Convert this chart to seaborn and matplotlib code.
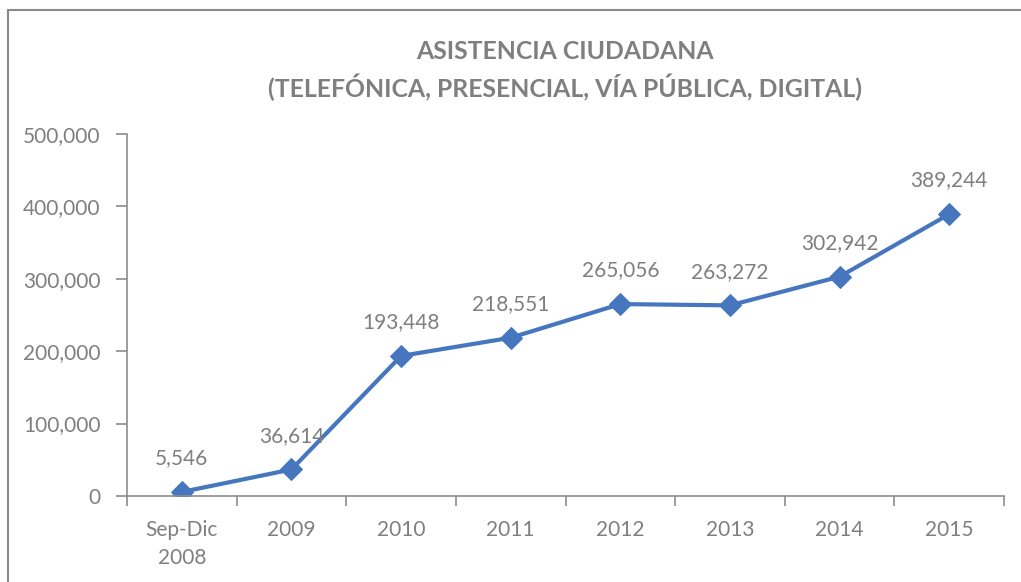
import matplotlib
matplotlib.use("Agg")
import matplotlib.pyplot as plt
import matplotlib.ticker as mticker
from matplotlib.patches import Rectangle
import seaborn as sns
import pandas as pd

# Data
periods = ["Sep-Dic\n2008", "2009", "2010", "2011", "2012", "2013", "2014", "2015"]
attendances = [5546, 36614, 193448, 218551, 265056, 263272, 302942, 389244]

TITLE = "ASISTENCIA CIUDADANA\n(TELEFÓNICA, PRESENCIAL, VÍA PÚBLICA, DIGITAL)"
LINE_COLOR = "#4677be"
TEXT_COLOR = "#7f7f7f"
AXIS_COLOR = "#8c8c8c"


def main():
    sns.set_theme(style="white")
    plt.rcParams["font.family"] = ["Lato", "DejaVu Sans"]

    df = pd.DataFrame({"periodo": periods, "asistencias": attendances})

    fig = plt.figure(figsize=(10.21, 5.82), dpi=100)
    ax = fig.add_axes([0.1244, 0.1478, 0.859, 0.622])

    sns.lineplot(data=df, x="periodo", y="asistencias", ax=ax, sort=False,
                 color=LINE_COLOR, linewidth=3, marker="D", markersize=11,
                 markeredgecolor=LINE_COLOR)

    # data labels above each point
    for i, v in enumerate(df["asistencias"]):
        ax.annotate(f"{v:,}", (i, v), xytext=(0, 17), textcoords="offset points",
                    ha="center", va="bottom", fontsize=15, color=TEXT_COLOR)

    ax.set_ylim(0, 500000)
    ax.set_xlim(-0.5, len(periods) - 0.5)
    ax.yaxis.set_major_locator(mticker.MultipleLocator(100000))
    ax.yaxis.set_major_formatter(mticker.FuncFormatter(lambda v, p: f"{int(v):,}"))

    # Excel style: tick marks between categories, labels centred on them
    ax.set_xticks(range(len(periods)))
    ax.set_xticklabels(periods, linespacing=1.55)
    ax.set_xticks([i - 0.5 for i in range(len(periods) + 1)], minor=True)
    ax.tick_params(axis="x", which="major", length=0, pad=17,
                   labelsize=15, labelcolor=TEXT_COLOR)
    ax.tick_params(axis="x", which="minor", length=7, width=1.2,
                   color=AXIS_COLOR, direction="out", bottom=True)
    ax.tick_params(axis="y", which="major", length=8, width=1.2, color=AXIS_COLOR,
                   direction="out", left=True, pad=11, labelsize=15,
                   labelcolor=TEXT_COLOR)

    ax.set_xlabel("")
    ax.set_ylabel("")
    ax.grid(False)
    for side in ["top", "right"]:
        ax.spines[side].set_visible(False)
    for side in ["left", "bottom"]:
        ax.spines[side].set_color(AXIS_COLOR)
        ax.spines[side].set_linewidth(1.2)

    fig.text(0.553, 0.879, TITLE, ha="center", va="center", fontsize=17.8,
             fontweight="bold", color=TEXT_COLOR, linespacing=1.45)

    # chart frame (only top and left edges visible in the crop)
    fig.patches.append(Rectangle((8 / 1021, -0.5), 1.5, 0.5 + 1 - 10 / 582,
                                 transform=fig.transFigure, fill=False,
                                 edgecolor="#8a8a8a", linewidth=1.5))

    fig.savefig("out.png", dpi=100, facecolor="white")
    plt.close(fig)


if __name__ == "__main__":
    main()
